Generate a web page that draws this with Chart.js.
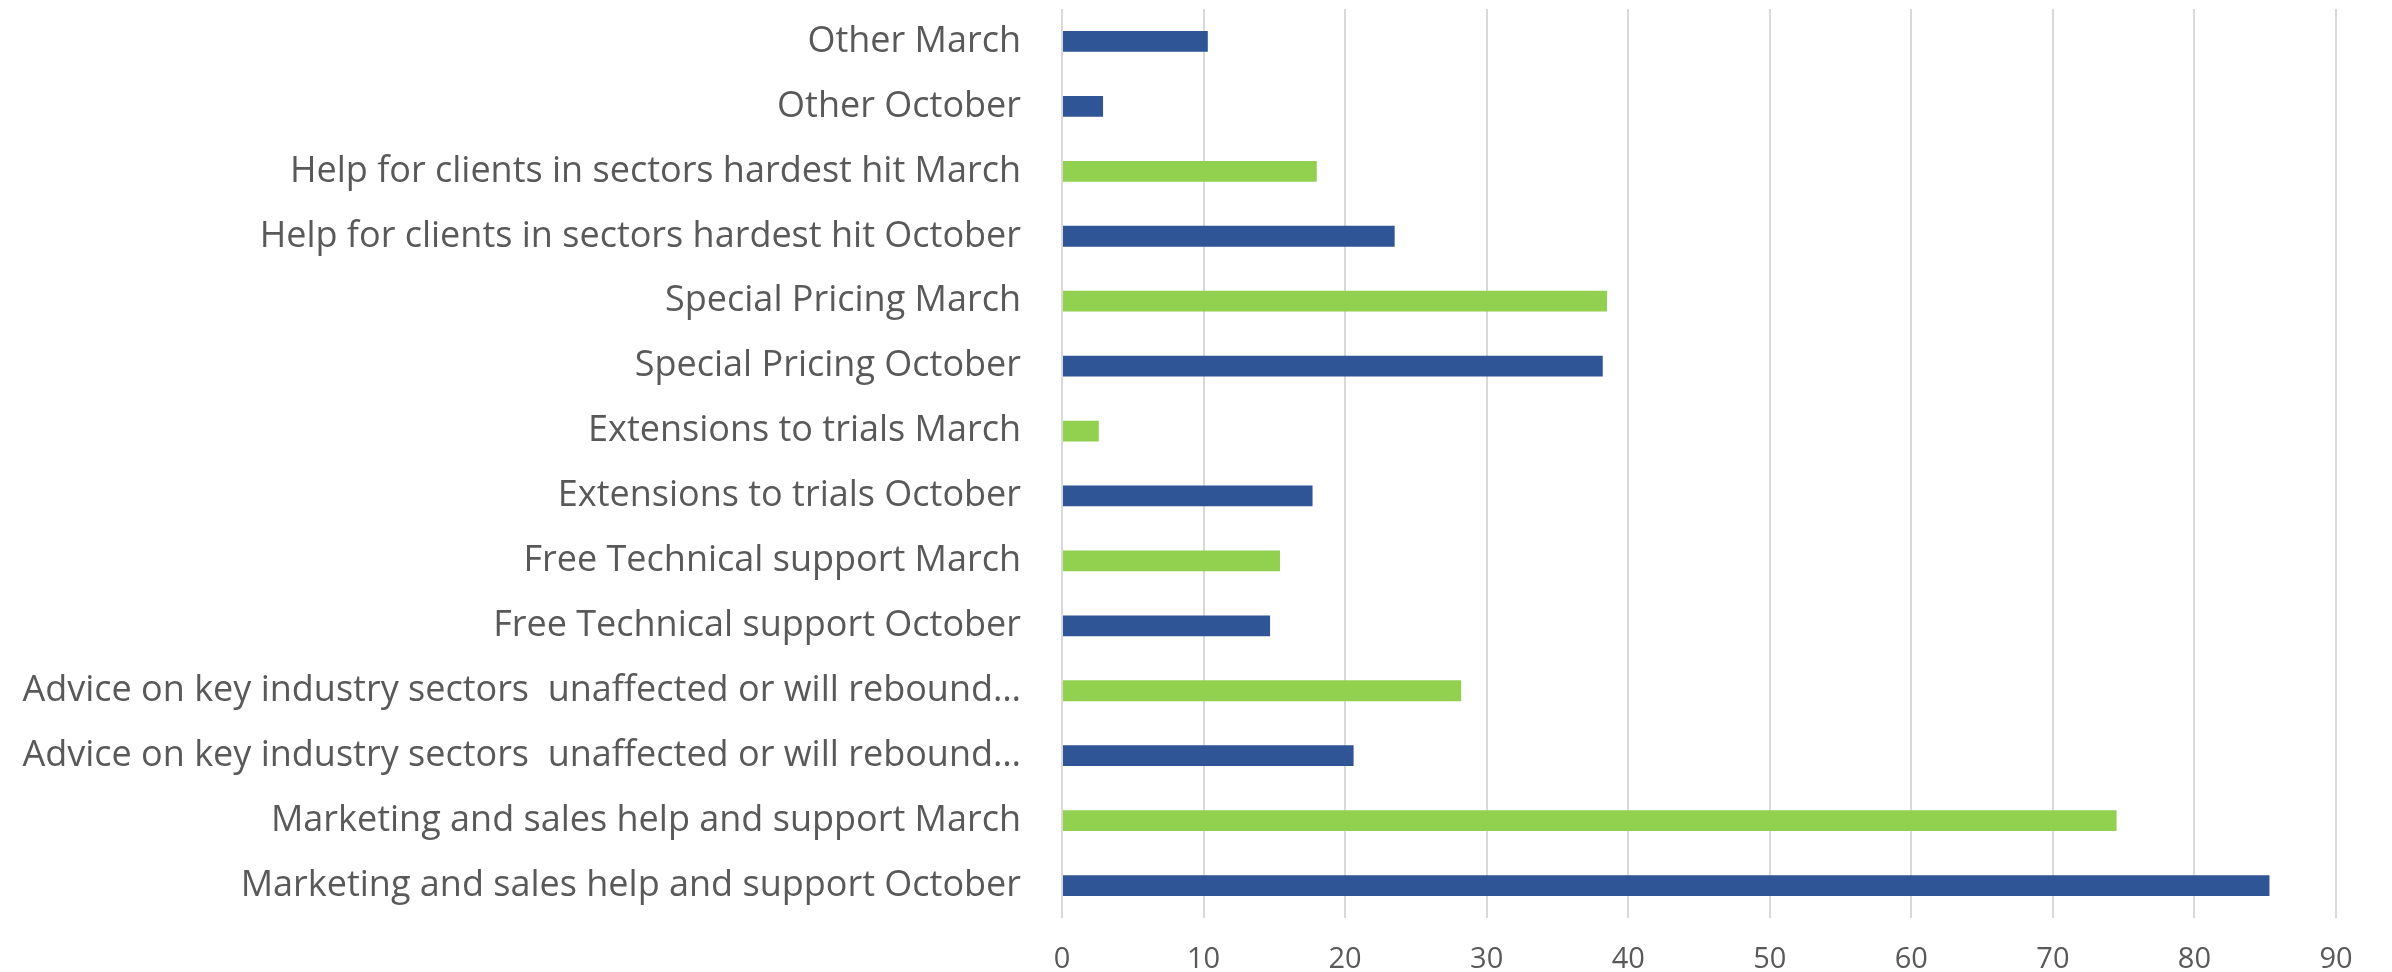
<!DOCTYPE html>
<html>
<head>
<meta charset="utf-8">
<script src="https://cdn.jsdelivr.net/npm/chart.js@4"></script>
<style>
  html, body { margin: 0; padding: 0; background: #fff; }
  #wrap { width: 2392px; height: 972px; position: relative; }
</style>
</head>
<body>
<div id="wrap"><canvas id="chart"></canvas></div>
<script>
// Categories, top to bottom as they appear in the chart
const categories = [
    'Other March',
    'Other October',
    'Help for clients in sectors hardest hit March',
    'Help for clients in sectors hardest hit October',
    'Special Pricing March',
    'Special Pricing October',
    'Extensions to trials March',
    'Extensions to trials October',
    'Free Technical support March',
    'Free Technical support October',
    'Advice on key industry sectors  unaffected or will rebound\u2026',
    'Advice on key industry sectors  unaffected or will rebound\u2026',
    'Marketing and sales help and support March',
    'Marketing and sales help and support October'
];

const values = [10.3, 2.9, 18.0, 23.5, 38.5, 38.2, 2.6, 17.7, 15.4, 14.7, 28.2, 20.6, 74.5, 85.3];

const blue = '#2F5597';
const green = '#92D050';
const barColors = [blue, blue, green, blue, green, blue, green, blue, green, blue, green, blue, green, blue];

const xTicks = [0, 10, 20, 30, 40, 50, 60, 70, 80, 90];

const labelFont = '"Open Sans", sans-serif';

const ctx = document.getElementById('chart').getContext('2d');
new Chart(ctx, {
    type: 'bar',
    data: {
        labels: categories,
        datasets: [{
            data: values,
            backgroundColor: barColors,
            borderWidth: 0,
            barPercentage: 0.32,
            categoryPercentage: 1
        }]
    },
    options: {
        indexAxis: 'y',
        responsive: true,
        maintainAspectRatio: false,
        animation: false,
        layout: {
            padding: { left: 0, right: 56, top: 9, bottom: 0 }
        },
        plugins: {
            legend: { display: false },
            tooltip: { enabled: false }
        },
        scales: {
            x: {
                min: xTicks[0],
                max: xTicks[xTicks.length - 1],
                afterBuildTicks: function(axis) {
                    axis.ticks = xTicks.map(v => ({ value: v }));
                },
                afterFit: function(scale) {
                    scale.height = 54;
                    scale.paddingBottom = 0;
                },
                grid: {
                    color: '#D9D9D9',
                    lineWidth: 2,
                    drawTicks: false
                },
                border: { display: false },
                ticks: {
                    color: '#595959',
                    padding: 24,
                    font: { family: labelFont, size: 29 }
                }
            },
            y: {
                afterFit: function(scale) {
                    scale.width = 1062;
                    scale.paddingTop = 0;
                    scale.paddingBottom = 0;
                },
                grid: { display: false, drawTicks: false },
                border: { display: false },
                ticks: {
                    color: '#595959',
                    padding: 41,
                    autoSkip: false,
                    font: { family: labelFont, size: 36 }
                }
            }
        }
    }
});
</script>
</body>
</html>
